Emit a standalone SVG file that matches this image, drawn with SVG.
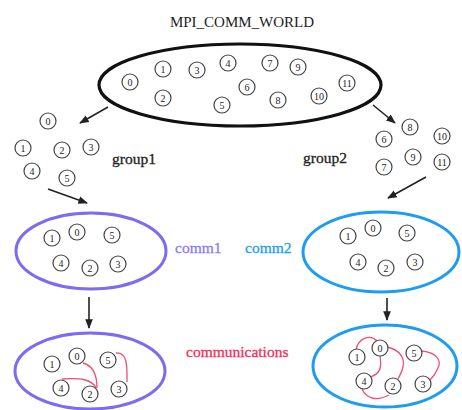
<svg xmlns="http://www.w3.org/2000/svg" width="462" height="410" viewBox="0 0 462 410">
<defs>
<style>
.p circle{fill:#fff;stroke:#444;stroke-width:1.2}
.p text{font-family:"Liberation Serif",serif;font-size:10px;fill:#222;text-anchor:middle;dominant-baseline:central}
.lbl{font-family:"Liberation Serif",serif;font-size:15.5px;stroke-width:0.3}
.arr{stroke:#222;stroke-width:1.6;fill:none;marker-end:url(#ah)}
.red{stroke:#f0506e;stroke-width:1.3;fill:none}
</style>
<marker id="ah" viewBox="0 0 10 10" refX="9" refY="5" markerWidth="6" markerHeight="6" orient="auto"><path d="M0,1 L10,5 L0,9 z" fill="#222"/></marker>
</defs>
<rect width="462" height="410" fill="#fff"/>
<text x="242" y="27" font-family="Liberation Serif,serif" font-size="15" text-anchor="middle" fill="#222">MPI_COMM_WORLD</text>

<g id="world">
<ellipse cx="240" cy="85" rx="141" ry="41" fill="none" stroke="#111" stroke-width="3.2"/>
<g class="p">
<circle cx="130" cy="82" r="8"/><text x="130" y="82">0</text>
<circle cx="163" cy="69" r="8"/><text x="163" y="69">1</text>
<circle cx="163" cy="98" r="8"/><text x="163" y="98">2</text>
<circle cx="197" cy="70" r="8"/><text x="197" y="70">3</text>
<circle cx="228" cy="63" r="8"/><text x="228" y="63">4</text>
<circle cx="222" cy="105" r="8"/><text x="222" y="105">5</text>
<circle cx="247" cy="87" r="8"/><text x="247" y="87">6</text>
<circle cx="270" cy="63" r="8"/><text x="270" y="63">7</text>
<circle cx="278" cy="100" r="8"/><text x="278" y="100">8</text>
<circle cx="298" cy="67" r="8"/><text x="298" y="67">9</text>
<circle cx="319" cy="96" r="8"/><text x="319" y="96">10</text>
<circle cx="347" cy="83" r="8"/><text x="347" y="83">11</text>
</g>
</g>

<g id="group1">
<g class="p">
<circle cx="48" cy="121" r="8"/><text x="48" y="121">0</text>
<circle cx="23" cy="148" r="8"/><text x="23" y="148">1</text>
<circle cx="62" cy="150" r="8"/><text x="62" y="150">2</text>
<circle cx="91" cy="147" r="8"/><text x="91" y="147">3</text>
<circle cx="32" cy="171" r="8"/><text x="32" y="171">4</text>
<circle cx="67" cy="178" r="8"/><text x="67" y="178">5</text>
</g>
<text class="lbl" x="112" y="164" fill="#222" stroke="#222">group1</text>
</g>

<g id="group2">
<g class="p">
<circle cx="384" cy="139" r="8"/><text x="384" y="139">6</text>
<circle cx="384" cy="167" r="8"/><text x="384" y="167">7</text>
<circle cx="410" cy="127" r="8"/><text x="410" y="127">8</text>
<circle cx="413" cy="157" r="8"/><text x="413" y="157">9</text>
<circle cx="442" cy="136" r="8"/><text x="442" y="136">10</text>
<circle cx="442" cy="162" r="8"/><text x="442" y="162">11</text>
</g>
<text class="lbl" x="303" y="163" fill="#222" stroke="#222">group2</text>
</g>

<g id="comm1">
<ellipse cx="91" cy="251" rx="75" ry="38" fill="none" stroke="#7b6cf0" stroke-width="3"/>
<g class="p">
<circle cx="77" cy="232" r="8"/><text x="77" y="232">0</text>
<circle cx="52" cy="238" r="8"/><text x="52" y="238">1</text>
<circle cx="90" cy="268" r="8"/><text x="90" y="268">2</text>
<circle cx="118" cy="264" r="8"/><text x="118" y="264">3</text>
<circle cx="61" cy="263" r="8"/><text x="61" y="263">4</text>
<circle cx="112" cy="235" r="8"/><text x="112" y="235">5</text>
</g>
<text class="lbl" x="175" y="253" fill="#8a7cf0" stroke="#8a7cf0">comm1</text>
</g>

<g id="comm2">
<ellipse cx="381" cy="252" rx="78" ry="40" fill="none" stroke="#1e9cf0" stroke-width="3"/>
<g class="p">
<circle cx="373" cy="228" r="8"/><text x="373" y="228">0</text>
<circle cx="348" cy="236" r="8"/><text x="348" y="236">1</text>
<circle cx="386" cy="268" r="8"/><text x="386" y="268">2</text>
<circle cx="415" cy="262" r="8"/><text x="415" y="262">3</text>
<circle cx="358" cy="262" r="8"/><text x="358" y="262">4</text>
<circle cx="407" cy="233" r="8"/><text x="407" y="233">5</text>
</g>
<text class="lbl" x="245" y="253" fill="#1ea0f0" stroke="#1ea0f0">comm2</text>
</g>

<g id="comm1-comm">
<ellipse cx="90" cy="371" rx="75" ry="38" fill="none" stroke="#7b6cf0" stroke-width="3"/>
<path class="red" d="M83 363 C94 366 97 376 97 388"/>
<path class="red" d="M62 379 C80 378 92 379 96 388"/>
<path class="red" d="M116 353 C128 352 127 368 127 382"/>
<g class="p">
<circle cx="77" cy="356" r="8"/><text x="77" y="356">0</text>
<circle cx="52" cy="364" r="8"/><text x="52" y="364">1</text>
<circle cx="90" cy="394" r="8"/><text x="90" y="394">2</text>
<circle cx="119" cy="389" r="8"/><text x="119" y="389">3</text>
<circle cx="61" cy="388" r="8"/><text x="61" y="388">4</text>
<circle cx="108" cy="360" r="8"/><text x="108" y="360">5</text>
</g>
</g>

<text id="communications" class="lbl" x="186" y="357" fill="#f0305a" stroke="#f0305a">communications</text>

<g id="comm2-comm">
<ellipse cx="385" cy="366" rx="72" ry="41" fill="none" stroke="#1e9cf0" stroke-width="3"/>
<path class="red" d="M356 350 C358 338 370 334 377 341"/>
<path class="red" d="M380 356 C382 368 380 374 370 377"/>
<path class="red" d="M387 347 C400 350 405 358 403 367 C402 372 400 375 398 379"/>
<path class="red" d="M362 389 C366 398 376 402 389 395"/>
<path class="red" d="M421 351 C436 352 442 360 438 368 C436 373 434 376 430 380"/>
<g class="p">
<circle cx="380" cy="348" r="8"/><text x="380" y="348">0</text>
<circle cx="357" cy="357" r="8"/><text x="357" y="357">1</text>
<circle cx="393" cy="386" r="8"/><text x="393" y="386">2</text>
<circle cx="423" cy="384" r="8"/><text x="423" y="384">3</text>
<circle cx="364" cy="381" r="8"/><text x="364" y="381">4</text>
<circle cx="414" cy="353" r="8"/><text x="414" y="353">5</text>
</g>
</g>

<g id="connectors">
<path class="arr" d="M108 107 L80 123"/>
<path class="arr" d="M373 105 L395 123"/>
<path class="arr" d="M48 189 L87 203"/>
<path class="arr" d="M426 177 L388 198"/>
<path class="arr" d="M89 297 L89 328"/>
<path class="arr" d="M387 298 L387 320"/>
</g>
</svg>
